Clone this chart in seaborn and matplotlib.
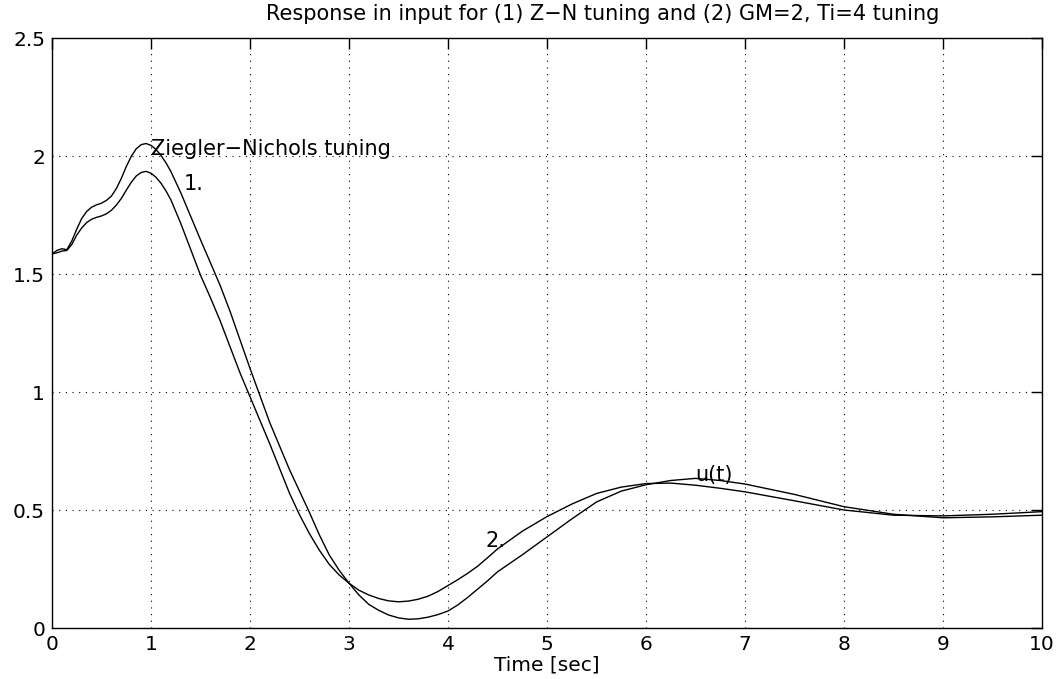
import matplotlib
matplotlib.use("Agg")
import matplotlib.pyplot as plt
import seaborn as sns
import pandas as pd

# ---- data ----
t = [0, 0.05, 0.1, 0.15, 0.2, 0.25, 0.3, 0.35, 0.4, 0.45, 0.5, 0.55, 0.6,
     0.65, 0.7, 0.75, 0.8, 0.85, 0.9, 0.95, 1.0, 1.05, 1.1, 1.15, 1.2, 1.3,
     1.4, 1.5, 1.6, 1.7, 1.8, 1.9, 2.0, 2.2, 2.4, 2.5, 2.6, 2.7, 2.8, 2.9,
     3.0, 3.1, 3.2, 3.3, 3.4, 3.5, 3.6, 3.7, 3.8, 3.9, 4.0, 4.1, 4.2, 4.3,
     4.4, 4.5, 4.75, 5.0, 5.25, 5.5, 5.75, 6.0, 6.25, 6.5, 6.75, 7.0, 7.5,
     8.0, 8.5, 9.0, 9.5, 10.0]

u_zn = [1.585, 1.600, 1.607, 1.603, 1.640, 1.690, 1.735, 1.765, 1.783, 1.793,
        1.800, 1.812, 1.830, 1.862, 1.905, 1.955, 1.998, 2.030, 2.048, 2.053,
        2.045, 2.028, 2.003, 1.972, 1.935, 1.845, 1.745, 1.645, 1.548, 1.450,
        1.340, 1.220, 1.100, 0.870, 0.670, 0.580, 0.490, 0.395, 0.310, 0.245,
        0.190, 0.140, 0.100, 0.075, 0.055, 0.043, 0.037, 0.039, 0.046, 0.057,
        0.072, 0.098, 0.130, 0.165, 0.200, 0.238, 0.310, 0.386, 0.462, 0.534,
        0.580, 0.607, 0.625, 0.634, 0.625, 0.610, 0.566, 0.514, 0.482, 0.467,
        0.471, 0.478]

u_gm = [1.585, 1.590, 1.597, 1.600, 1.625, 1.665, 1.695, 1.718, 1.732, 1.740,
        1.746, 1.755, 1.770, 1.792, 1.820, 1.855, 1.888, 1.915, 1.930, 1.935,
        1.927, 1.910, 1.885, 1.853, 1.815, 1.715, 1.605, 1.495, 1.400, 1.300,
        1.190, 1.080, 0.980, 0.780, 0.570, 0.480, 0.400, 0.330, 0.270, 0.225,
        0.190, 0.160, 0.140, 0.125, 0.115, 0.111, 0.114, 0.122, 0.135, 0.155,
        0.180, 0.205, 0.232, 0.262, 0.298, 0.335, 0.410, 0.472, 0.525, 0.570,
        0.597, 0.612, 0.614, 0.605, 0.592, 0.577, 0.539, 0.500, 0.478, 0.475,
        0.482, 0.493]

x_ticks = [0, 1, 2, 3, 4, 5, 6, 7, 8, 9, 10]
y_ticks = [0, 0.5, 1, 1.5, 2, 2.5]
y_tick_labels = ["0", "0.5", "1", "1.5", "2", "2.5"]

title = "Response in input for (1) Z\u2212N tuning and (2) GM=2, Ti=4 tuning"
xlabel = "Time [sec]"
annotations = [
    (1.0, 2.03, "Ziegler\u2212Nichols tuning"),
    (1.33, 1.88, "1."),
    (4.38, 0.37, "2."),
    (6.5, 0.65, "u(t)"),
]

# ---- plot ----
sns.set_style("white")
plt.rcParams["font.family"] = ["DejaVu Sans"]
plt.rcParams["text.color"] = "black"
plt.rcParams["axes.labelcolor"] = "black"

fig = plt.figure(figsize=(10.57, 6.79), dpi=100)
ax = fig.add_axes([52 / 1057, 1 - 628 / 679, 990 / 1057, 590 / 679])

df1 = pd.DataFrame({"t": t, "u": u_zn})
df2 = pd.DataFrame({"t": t, "u": u_gm})
sns.lineplot(data=df1, x="t", y="u", ax=ax, color="black", linewidth=1.0)
sns.lineplot(data=df2, x="t", y="u", ax=ax, color="black", linewidth=1.0)

ax.set_xlim(0, 10)
ax.set_ylim(0, 2.5)
ax.set_xticks(x_ticks)
ax.set_xticklabels([str(v) for v in x_ticks])
ax.set_yticks(y_ticks)
ax.set_yticklabels(y_tick_labels)

ax.grid(True, color="black", linestyle=(0, (1, 5)), linewidth=0.8)
ax.tick_params(direction="in", length=8, width=1, top=True, right=True,
               labelsize=14.5, pad=5, colors="black", labelcolor="black")
for s in ax.spines.values():
    s.set_visible(True)
    s.set_color("black")
    s.set_linewidth(1.0)

ax.set_xlabel(xlabel, fontsize=14.5, labelpad=1, color="black")
ax.set_ylabel("")
ax.set_title(title, fontsize=15, pad=13, color="black", x=0.556)

for x, y, s in annotations:
    ax.text(x, y, s, fontsize=15, ha="left", va="center", color="black")

fig.savefig("out.png", dpi=100)
